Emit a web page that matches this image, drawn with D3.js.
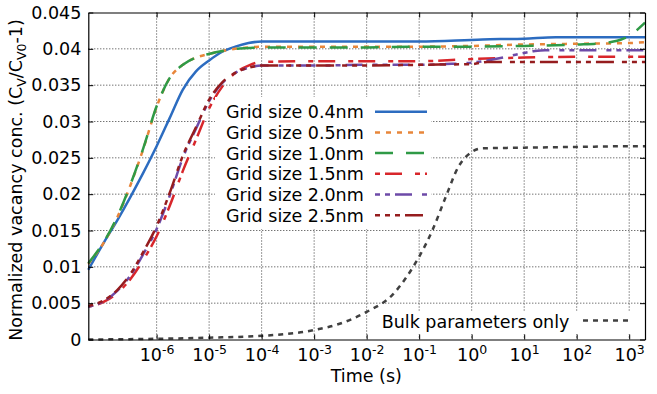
<!DOCTYPE html>
<html>
<head>
<meta charset="utf-8">
<script src="https://cdn.jsdelivr.net/npm/d3@7"></script>
<style>
  body { margin: 0; background: #fff; }
  text { font-family: "DejaVu Sans", sans-serif; fill: #000; }
</style>
</head>
<body>
<div id="chart"></div>
<script>
// ---- data ----
const seriesNames = ["Grid size 0.4nm", "Grid size 0.5nm", "Grid size 1.0nm",
                     "Grid size 1.5nm", "Grid size 2.0nm", "Grid size 2.5nm"];
const bulkName = "Bulk parameters only";

// time (s) for the rise, shared by the grid-size runs
const tRise = [5e-8, 1e-7, 1.78e-7, 3.16e-7, 5.62e-7, 1e-6, 1.78e-6, 3.16e-6, 5.62e-6,
               1e-5, 1.78e-5, 3.16e-5, 5.62e-5, 1e-4];

const t04 = tRise.concat([1e-3, 1e-2, 1e-1, 1.6, 10, 40, 300, 2000]);
const v04 = [0.0096, 0.0134, 0.0164, 0.0196, 0.0230, 0.0266, 0.0305, 0.0344, 0.0369,
             0.0384, 0.0396, 0.0403, 0.0408, 0.0410, 0.0410, 0.0410, 0.0410, 0.0413,
             0.0414, 0.0416, 0.0416, 0.0416];

const t05 = tRise.concat([1e-3, 1e-2, 1e-1, 1, 10, 100, 1000, 2000]);
const v05 = [0.0104, 0.0134, 0.0168, 0.0212, 0.0263, 0.0320, 0.0360, 0.0378, 0.0388,
             0.0393, 0.0397, 0.0400, 0.0402, 0.0403, 0.0403, 0.0403, 0.0403, 0.0404,
             0.0406, 0.0407, 0.0408, 0.0409];

const t10 = tRise.concat([1e-3, 1e-2, 1e-1, 1, 10, 100, 316, 500, 890, 1410, 2000]);
const v10 = [0.0105, 0.0135, 0.0169, 0.0213, 0.0264, 0.0321, 0.0360, 0.0378, 0.0388,
             0.0393, 0.0397, 0.0400, 0.0401, 0.0402, 0.0402, 0.0402, 0.0403, 0.0403,
             0.0404, 0.0406, 0.0408, 0.0410, 0.0416, 0.0426, 0.0436];

const t15 = tRise.concat([1e-3, 1e-2, 1e-1, 1, 10, 100, 1000, 2000]);
const v15 = [0.0045, 0.0052, 0.0064, 0.0083, 0.0110, 0.0142, 0.0184, 0.0232, 0.0275,
             0.0318, 0.0348, 0.0367, 0.0377, 0.0382, 0.0383, 0.0383, 0.0383, 0.0386,
             0.0388, 0.0389, 0.0389, 0.0389];

const t20 = tRise.concat([1e-3, 1e-2, 1e-1, 0.32, 1, 2, 4, 8, 16, 25, 100, 1000, 2000]);
const v20 = [0.0045, 0.0053, 0.0067, 0.0088, 0.0118, 0.0152, 0.0198, 0.0250, 0.0290,
             0.0328, 0.0353, 0.0367, 0.0374, 0.0377, 0.0377, 0.0378, 0.0378, 0.0379,
             0.0381, 0.0384, 0.0388, 0.0393, 0.0397, 0.0398, 0.0398, 0.0398, 0.0398];

const t25 = tRise.concat([1e-3, 1e-2, 1e-1, 1, 2, 10, 100, 1000, 2000]);
const v25 = [0.0046, 0.0054, 0.0068, 0.0090, 0.0121, 0.0156, 0.0202, 0.0253, 0.0292,
             0.0330, 0.0354, 0.0367, 0.0374, 0.0377, 0.0377, 0.0377, 0.0378, 0.0379,
             0.0382, 0.0382, 0.0382, 0.0382, 0.0382];

const tBulk = [5e-8, 1e-6, 1e-5, 1e-4, 1e-3, 3.16e-3, 1e-2, 3.16e-2, 5.62e-2, 1e-1,
               1.78e-1, 3.16e-1, 5.62e-1, 1, 1.58, 10, 100, 1000, 2000];
const vBulk = [0, 0.0001, 0.00025, 0.0005, 0.0013, 0.0022, 0.0038, 0.0062, 0.0085,
               0.0114, 0.0150, 0.0195, 0.0238, 0.0258, 0.0263, 0.0264, 0.0265, 0.0266, 0.0266];

const xTicks = [1e-6, 1e-5, 1e-4, 1e-3, 1e-2, 1e-1, 1e0, 1e1, 1e2, 1e3];
const xTickExp = ["-6", "-5", "-4", "-3", "-2", "-1", "0", "1", "2", "3"];
const yTicks = [0, 0.005, 0.01, 0.015, 0.02, 0.025, 0.03, 0.035, 0.04, 0.045];
const yTickLabels = ["0", "0.005", "0.01", "0.015", "0.02", "0.025", "0.03", "0.035", "0.04", "0.045"];

// ---- styles per series ----
const colors = ["#2c6cc0", "#e8863a", "#2f9a46", "#d8262b", "#6d4aa8", "#951c1e"];
const dashes = ["none", "5,6", "18,13", "5,5,17,13", "5,5,5,5,17,10", "5,5,5,5,5,5,18,8"];
const bulkColor = "#404040";
const fontSize = "17.5px";

const width = 657, height = 394;
const margin = {top: 12.5, right: 12, bottom: 54.5, left: 88.3};
const innerW = width - margin.left - margin.right;
const innerH = height - margin.top - margin.bottom;

const svg = d3.select("#chart")
  .append("svg")
    .attr("width", width)
    .attr("height", height);

const g = svg.append("g")
    .attr("transform", `translate(${margin.left},${margin.top})`);

const x = d3.scaleLog().domain([5e-8, 2000]).range([0, innerW]);
const y = d3.scaleLinear().domain([0, 0.045]).range([innerH, 0]);

// dotted grid
g.append("g")
  .selectAll("line")
  .data(xTicks)
  .join("line")
    .attr("x1", d => x(d)).attr("x2", d => x(d))
    .attr("y1", 0).attr("y2", innerH)
    .attr("stroke", "#222").attr("stroke-width", 0.9).attr("stroke-dasharray", "1,2");
g.append("g")
  .selectAll("line")
  .data(yTicks.slice(1, -1))
  .join("line")
    .attr("x1", 0).attr("x2", innerW)
    .attr("y1", d => y(d)).attr("y2", d => y(d))
    .attr("stroke", "#222").attr("stroke-width", 0.9).attr("stroke-dasharray", "1,2");

// curves
const line = d3.line()
    .x(d => x(d[0]))
    .y(d => y(d[1]))
    .curve(d3.curveMonotoneX);

const times = [t04, t05, t10, t15, t20, t25];
const values = [v04, v05, v10, v15, v20, v25];

const plot = g.append("g");
plot.append("path")
    .datum(d3.zip(tBulk, vBulk))
    .attr("d", line)
    .attr("fill", "none")
    .attr("stroke", bulkColor)
    .attr("stroke-width", 2.5)
    .attr("stroke-dasharray", "5,5");

times.forEach((t, i) => {
  plot.append("path")
      .datum(d3.zip(t, values[i]))
      .attr("d", line)
      .attr("fill", "none")
      .attr("stroke", colors[i])
      .attr("stroke-width", 2.5)
      .attr("stroke-dasharray", dashes[i]);
});

// axes, ticks pointing inward
const xAxis = g.append("g")
    .attr("transform", `translate(0,${innerH})`)
    .call(d3.axisBottom(x).tickValues(xTicks).tickSizeInner(-5).tickSizeOuter(0)
          .tickPadding(9).tickFormat(""));
xAxis.selectAll(".tick text")
    .style("font-size", fontSize)
    .text(null)
    .each(function(d, i) {
      const t = d3.select(this);
      t.append("tspan").text("10");
      t.append("tspan").attr("dy", -7).style("font-size", "12.5px").text(xTickExp[i]);
    });

const yAxis = g.append("g")
    .call(d3.axisLeft(y).tickValues(yTicks).tickSizeInner(-5).tickSizeOuter(0)
          .tickPadding(7).tickFormat((d, i) => yTickLabels[i]));
yAxis.selectAll(".tick text").style("font-size", fontSize);

g.append("g")
    .attr("transform", `translate(${innerW},0)`)
    .call(d3.axisRight(y).tickValues(yTicks).tickSizeInner(-5).tickSizeOuter(0).tickFormat(""));
g.append("g")
    .call(d3.axisTop(x).tickValues(xTicks).tickSizeInner(-5).tickSizeOuter(0).tickFormat(""));

g.selectAll(".domain").attr("stroke", "#000").attr("stroke-width", 1.2);
g.selectAll(".tick line").attr("stroke", "#000");

// axis titles
svg.append("text")
    .attr("x", margin.left + 278)
    .attr("y", 382)
    .attr("text-anchor", "middle")
    .style("font-size", fontSize)
    .text("Time (s)");

const yLabel = svg.append("text")
    .attr("transform", "translate(22,180) rotate(-90)")
    .attr("text-anchor", "middle")
    .style("font-size", fontSize);
yLabel.append("tspan").text("Normalized vacancy conc. (C");
yLabel.append("tspan").attr("dy", 4).style("font-size", "12.5px").text("V");
yLabel.append("tspan").attr("dy", -4).text("/C");
yLabel.append("tspan").attr("dy", 4).style("font-size", "12.5px").text("V0");
yLabel.append("tspan").attr("dy", -4).text("-1)");

// legend for grid sizes
const legend = svg.append("g");
legend.append("rect")
    .attr("x", 215).attr("y", 97).attr("width", 216).attr("height", 132)
    .attr("fill", "#fff");
seriesNames.forEach((name, i) => {
  const ly = 111.7 + i * 20.7;
  legend.append("text")
      .attr("x", 226).attr("y", ly + 6.5)
      .style("font-size", fontSize)
      .text(name);
  legend.append("line")
      .attr("x1", 375).attr("x2", 427)
      .attr("y1", ly).attr("y2", ly)
      .attr("stroke", colors[i])
      .attr("stroke-width", 2.5)
      .attr("stroke-dasharray", dashes[i]);
});

// legend for bulk run
const legendBulk = svg.append("g");
legendBulk.append("rect")
    .attr("x", 376).attr("y", 311).attr("width", 261).attr("height", 23)
    .attr("fill", "#fff");
legendBulk.append("text")
    .attr("x", 381.7).attr("y", 327.5)
    .style("font-size", fontSize)
    .text(bulkName);
legendBulk.append("line")
    .attr("x1", 583).attr("x2", 632)
    .attr("y1", 320.5).attr("y2", 320.5)
    .attr("stroke", bulkColor)
    .attr("stroke-width", 2.5)
    .attr("stroke-dasharray", "5,5");
</script>
</body>
</html>
